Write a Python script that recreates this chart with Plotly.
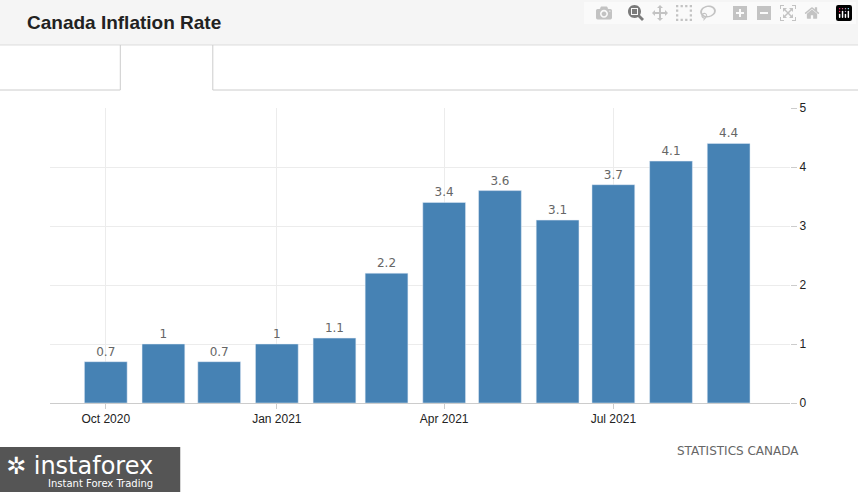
import plotly.graph_objects as go

months = ["2020-10-01","2020-11-01","2020-12-01","2021-01-01","2021-02-01","2021-03-01",
          "2021-04-01","2021-05-01","2021-06-01","2021-07-01","2021-08-01","2021-09-01"]
values = [0.7, 1, 0.7, 1, 1.1, 2.2, 3.4, 3.6, 3.1, 3.7, 4.1, 4.4]
tick_dates = ["2020-10-01","2021-01-01","2021-04-01","2021-07-01"]
tick_labels = ["Oct 2020","Jan 2021","Apr 2021","Jul 2021"]
value_labels = [("%g" % v) for v in values]

fig = go.Figure(go.Bar(
    x=months, y=values, marker_color="#4682b4", width=1000*3600*24*23,
    text=value_labels, textposition="outside", cliponaxis=False,
    textfont=dict(family="DejaVu Sans", size=12, color="#666666")))

fig.update_layout(
    width=858, height=492, paper_bgcolor="white", plot_bgcolor="white",
    margin=dict(l=50, r=68, t=108, b=89), showlegend=False, bargap=0.3,
    xaxis=dict(type="date", range=["2020-09-01","2021-10-04"], tickvals=tick_dates, ticktext=tick_labels,
               showgrid=True, gridcolor="#ececec", ticks="outside", ticklen=5, tickcolor="#cccccc",
               showline=True, linecolor="#cccccc",
               tickfont=dict(family="Liberation Sans", size=12, color="#222222")),
    yaxis=dict(side="right", range=[0, 5], dtick=1, showgrid=True, gridcolor="#ececec",
               zeroline=False, ticks="outside", ticklen=6, tickcolor="#cccccc",
               tickfont=dict(family="Liberation Sans", size=12, color="#222222")),
    shapes=[
        dict(type="rect", xref="paper", yref="paper", x0=-0.1, x1=1.2, y0=1.2136, y1=1.4,
             fillcolor="#f5f5f5", line_width=0, layer="below"),
        dict(type="line", xref="paper", yref="paper", x0=-0.1, x1=1.2, y0=1.2136, y1=1.2136,
             line=dict(color="#dddddd", width=1)),
        dict(type="path", xref="paper", yref="paper",
             path="M -0.1 1.061 L 0.095 1.061 L 0.095 1.2136 M 0.22 1.2136 L 0.22 1.061 L 1.2 1.061",
             line=dict(color="#cccccc", width=1)),
        dict(type="rect", xref="paper", yref="paper", x0=-0.068, x1=0.176, y0=-0.302, y1=-0.149,
             fillcolor="#555555", line_width=0),
    ],
    annotations=[
        dict(text="<b>Canada Inflation Rate</b>", xref="paper", yref="paper", x=-0.034, y=1.29,
             xanchor="left", yanchor="middle", showarrow=False,
             font=dict(family="Liberation Sans", size=19, color="#222222")),
        dict(text="STATISTICS CANADA", xref="paper", yref="paper", x=1.015, y=-0.163,
             xanchor="right", yanchor="middle", showarrow=False,
             font=dict(family="DejaVu Sans", size=12, color="#666666")),
        dict(text="✲ instaforex", xref="paper", yref="paper", x=-0.062, y=-0.212,
             xanchor="left", yanchor="middle", showarrow=False,
             font=dict(family="DejaVu Sans", size=24, color="white")),
        dict(text="Instant Forex Trading", xref="paper", yref="paper", x=-0.005, y=-0.273,
             xanchor="left", yanchor="middle", showarrow=False,
             font=dict(family="DejaVu Sans", size=10, color="white")),
    ],
)
fig.write_html("out.html")
with open("out.html", encoding="utf-8") as f:
    html = f.read()
html = html.replace("<body>", "<body style=\"margin:0\">", 1)
with open("out.html", "w", encoding="utf-8") as f:
    f.write(html)
